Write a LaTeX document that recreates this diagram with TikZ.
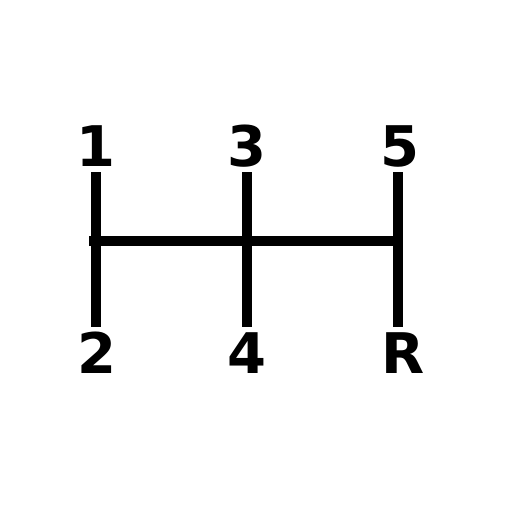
\documentclass[tikz,border=0pt]{standalone}
\usepackage{fontspec}
\setmainfont{DejaVu Sans}
\begin{document}
\begin{tikzpicture}[x=1pt,y=-1pt,
  gear/.style={font=\fontsize{56}{60}\selectfont\bfseries, anchor=base, inner sep=0pt},
  rod/.style={line width=10.5pt, line cap=butt}]
\useasboundingbox (0,0) rectangle (512,512);
\node[gear] (g1) at (96,166) {1};
\node[gear] (g3) at (247,166) {3};
\node[gear] (g5) at (400,166) {5};
\node[gear] (g2) at (97,373) {2};
\node[gear] (g4) at (247,373) {4};
\node[gear] (gR) at (403,373) {R};
\coordinate (t1) at (96,172); \coordinate (b1) at (96,327);
\coordinate (t3) at (247,172); \coordinate (b3) at (247,327);
\coordinate (t5) at (398,172); \coordinate (b5) at (398,327);
\coordinate (hl) at (89,241); \coordinate (hr) at (403,241);
\draw[rod] (t1) -- (b1);
\draw[rod] (t3) -- (b3);
\draw[rod] (t5) -- (b5);
\draw[rod] (hl) -- (hr);
\end{tikzpicture}
\end{document}
